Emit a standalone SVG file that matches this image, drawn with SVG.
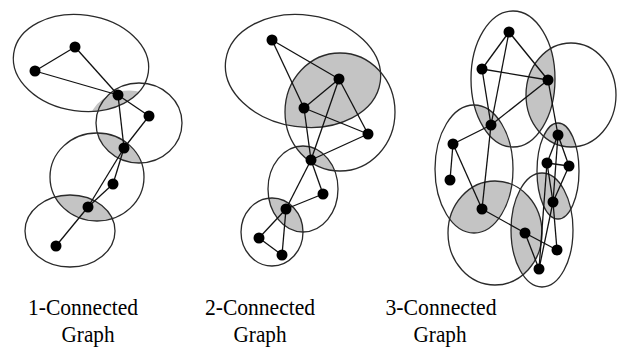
<svg xmlns="http://www.w3.org/2000/svg" width="621" height="349" viewBox="0 0 621 349">
<style>
.ring{fill:none;stroke:#2a2a2a;stroke-width:1.3}
.shade{fill:#c4c4c4;stroke:none}
.edges line{stroke:#111;stroke-width:1.3}
.v{fill:#000}
.lbl{font-family:"Liberation Serif","Times New Roman",serif;font-size:24px;fill:#000;text-anchor:middle}
</style>
<defs>
<clipPath id="c1b"><ellipse cx="139" cy="123" rx="43" ry="40"/></clipPath>
<clipPath id="c1c"><ellipse cx="97" cy="177" rx="47" ry="44"/></clipPath>
<clipPath id="c1d"><ellipse cx="70" cy="231" rx="45" ry="36"/></clipPath>
<clipPath id="c2a"><ellipse cx="303" cy="71" rx="78" ry="56" transform="rotate(8 303 71)"/></clipPath>
<clipPath id="c2c"><ellipse cx="303" cy="189" rx="35" ry="43"/></clipPath>
<clipPath id="c2d"><ellipse cx="272" cy="232" rx="31" ry="34"/></clipPath>
<clipPath id="c3R"><ellipse cx="571" cy="95" rx="45" ry="52"/></clipPath>
<clipPath id="c3L"><ellipse cx="474" cy="169" rx="39" ry="64"/></clipPath>
<clipPath id="c3BL"><ellipse cx="495" cy="233" rx="47" ry="52"/></clipPath>
<clipPath id="c3BR"><ellipse cx="542" cy="230" rx="31" ry="57"/></clipPath>
</defs>

<g id="shading">
<ellipse class="shade" cx="81" cy="63" rx="68" ry="48" transform="rotate(8 81 63)" clip-path="url(#c1b)"/>
<ellipse class="shade" cx="139" cy="123" rx="43" ry="40" clip-path="url(#c1c)"/>
<ellipse class="shade" cx="97" cy="177" rx="47" ry="44" clip-path="url(#c1d)"/>
<ellipse class="shade" cx="340" cy="112" rx="55" ry="59" clip-path="url(#c2a)"/>
<ellipse class="shade" cx="340" cy="112" rx="55" ry="59" clip-path="url(#c2c)"/>
<ellipse class="shade" cx="303" cy="189" rx="35" ry="43" clip-path="url(#c2d)"/>
<ellipse class="shade" cx="513" cy="79" rx="42" ry="68" clip-path="url(#c3R)"/>
<ellipse class="shade" cx="513" cy="79" rx="42" ry="68" clip-path="url(#c3L)"/>
<ellipse class="shade" cx="474" cy="169" rx="39" ry="64" clip-path="url(#c3BL)"/>
<ellipse class="shade" cx="495" cy="233" rx="47" ry="52" clip-path="url(#c3BR)"/>
<ellipse class="shade" cx="558" cy="171" rx="21" ry="48" clip-path="url(#c3R)"/>
<ellipse class="shade" cx="558" cy="171" rx="21" ry="48" clip-path="url(#c3BR)"/>
</g>

<g id="components">
<ellipse id="g1-c1" class="ring" cx="81" cy="63" rx="68" ry="48" transform="rotate(8 81 63)"/>
<ellipse id="g1-c2" class="ring" cx="139" cy="123" rx="43" ry="40"/>
<ellipse id="g1-c3" class="ring" cx="97" cy="177" rx="47" ry="44"/>
<ellipse id="g1-c4" class="ring" cx="70" cy="231" rx="45" ry="36"/>
<ellipse id="g2-c1" class="ring" cx="303" cy="71" rx="78" ry="56" transform="rotate(8 303 71)"/>
<ellipse id="g2-c2" class="ring" cx="340" cy="112" rx="55" ry="59"/>
<ellipse id="g2-c3" class="ring" cx="303" cy="189" rx="35" ry="43"/>
<ellipse id="g2-c4" class="ring" cx="272" cy="232" rx="31" ry="34"/>
<ellipse id="g3-T" class="ring" cx="513" cy="79" rx="42" ry="68"/>
<ellipse id="g3-R" class="ring" cx="571" cy="95" rx="45" ry="52"/>
<ellipse id="g3-L" class="ring" cx="474" cy="169" rx="39" ry="64"/>
<ellipse id="g3-BL" class="ring" cx="495" cy="233" rx="47" ry="52"/>
<ellipse id="g3-BR" class="ring" cx="542" cy="230" rx="31" ry="57"/>
<ellipse id="g3-SR" class="ring" cx="558" cy="171" rx="21" ry="48"/>
</g>

<g id="connectors" class="edges">
<line x1="75" y1="47" x2="35" y2="71"/>
<line x1="75" y1="47" x2="118" y2="95"/>
<line x1="35" y1="71" x2="118" y2="95"/>
<line x1="118" y1="95" x2="149" y2="116"/>
<line x1="118" y1="95" x2="124" y2="148"/>
<line x1="149" y1="116" x2="124" y2="148"/>
<line x1="124" y1="148" x2="113" y2="184"/>
<line x1="124" y1="148" x2="88" y2="207"/>
<line x1="113" y1="184" x2="88" y2="207"/>
<line x1="88" y1="207" x2="56" y2="246"/>

<line x1="272" y1="40" x2="339" y2="79"/>
<line x1="272" y1="40" x2="304" y2="108"/>
<line x1="339" y1="79" x2="304" y2="108"/>
<line x1="339" y1="79" x2="368" y2="134"/>
<line x1="304" y1="108" x2="368" y2="134"/>
<line x1="304" y1="108" x2="311" y2="160"/>
<line x1="339" y1="79" x2="311" y2="160"/>
<line x1="368" y1="134" x2="311" y2="160"/>
<line x1="311" y1="160" x2="286" y2="209"/>
<line x1="311" y1="160" x2="323" y2="194"/>
<line x1="323" y1="194" x2="286" y2="209"/>
<line x1="286" y1="209" x2="259" y2="238"/>
<line x1="286" y1="209" x2="282" y2="255"/>
<line x1="259" y1="238" x2="282" y2="255"/>

<line x1="509" y1="32" x2="482" y2="69"/>
<line x1="509" y1="32" x2="548" y2="80"/>
<line x1="509" y1="32" x2="491" y2="125"/>
<line x1="482" y1="69" x2="548" y2="80"/>
<line x1="482" y1="69" x2="491" y2="125"/>
<line x1="548" y1="80" x2="491" y2="125"/>
<line x1="548" y1="80" x2="558" y2="135"/>
<line x1="491" y1="125" x2="453" y2="144"/>
<line x1="491" y1="125" x2="482" y2="209"/>
<line x1="453" y1="144" x2="450" y2="180"/>
<line x1="453" y1="144" x2="482" y2="209"/>
<line x1="482" y1="209" x2="525" y2="233"/>
<line x1="525" y1="233" x2="557" y2="250"/>
<line x1="525" y1="233" x2="539" y2="269"/>
<line x1="558" y1="135" x2="547" y2="163"/>
<line x1="558" y1="135" x2="569" y2="166"/>
<line x1="547" y1="163" x2="569" y2="166"/>
<line x1="558" y1="135" x2="553" y2="202"/>
<line x1="547" y1="163" x2="553" y2="202"/>
<line x1="569" y1="166" x2="553" y2="202"/>
<line x1="553" y1="202" x2="539" y2="269"/>
<line x1="553" y1="202" x2="557" y2="250"/>
<line x1="547" y1="163" x2="539" y2="269"/>
</g>

<g id="g1-A"><circle class="v" cx="75" cy="47" r="5.5"/></g>
<g id="g1-B"><circle class="v" cx="35" cy="71" r="5.5"/></g>
<g id="g1-C"><circle class="v" cx="118" cy="95" r="5.5"/></g>
<g id="g1-D"><circle class="v" cx="149" cy="116" r="5.5"/></g>
<g id="g1-E"><circle class="v" cx="124" cy="148" r="5.5"/></g>
<g id="g1-F"><circle class="v" cx="113" cy="184" r="5.5"/></g>
<g id="g1-G"><circle class="v" cx="88" cy="207" r="5.5"/></g>
<g id="g1-H"><circle class="v" cx="56" cy="246" r="5.5"/></g>

<g id="g2-A"><circle class="v" cx="272" cy="40" r="5.5"/></g>
<g id="g2-B"><circle class="v" cx="339" cy="79" r="5.5"/></g>
<g id="g2-C"><circle class="v" cx="304" cy="108" r="5.5"/></g>
<g id="g2-D"><circle class="v" cx="368" cy="134" r="5.5"/></g>
<g id="g2-E"><circle class="v" cx="311" cy="160" r="5.5"/></g>
<g id="g2-F"><circle class="v" cx="323" cy="194" r="5.5"/></g>
<g id="g2-G"><circle class="v" cx="286" cy="209" r="5.5"/></g>
<g id="g2-H"><circle class="v" cx="259" cy="238" r="5.5"/></g>
<g id="g2-I"><circle class="v" cx="282" cy="255" r="5.5"/></g>

<g id="g3-A"><circle class="v" cx="509" cy="32" r="5.5"/></g>
<g id="g3-B"><circle class="v" cx="482" cy="69" r="5.5"/></g>
<g id="g3-C"><circle class="v" cx="548" cy="80" r="5.5"/></g>
<g id="g3-D"><circle class="v" cx="491" cy="125" r="5.5"/></g>
<g id="g3-E"><circle class="v" cx="453" cy="144" r="5.5"/></g>
<g id="g3-I"><circle class="v" cx="450" cy="180" r="5.5"/></g>
<g id="g3-K"><circle class="v" cx="482" cy="209" r="5.5"/></g>
<g id="g3-F"><circle class="v" cx="558" cy="135" r="5.5"/></g>
<g id="g3-G"><circle class="v" cx="547" cy="163" r="5.5"/></g>
<g id="g3-H"><circle class="v" cx="569" cy="166" r="5.5"/></g>
<g id="g3-J"><circle class="v" cx="553" cy="202" r="5.5"/></g>
<g id="g3-L"><circle class="v" cx="525" cy="233" r="5.5"/></g>
<g id="g3-M"><circle class="v" cx="557" cy="250" r="5.5"/></g>
<g id="g3-N"><circle class="v" cx="539" cy="269" r="5.5"/></g>

<g id="labels">
<text class="lbl" x="83" y="315" textLength="110" lengthAdjust="spacingAndGlyphs">1-Connected</text>
<text class="lbl" x="88" y="342" textLength="53" lengthAdjust="spacingAndGlyphs">Graph</text>
<text class="lbl" x="260" y="315" textLength="110" lengthAdjust="spacingAndGlyphs">2-Connected</text>
<text class="lbl" x="260" y="342" textLength="53" lengthAdjust="spacingAndGlyphs">Graph</text>
<text class="lbl" x="441" y="315" textLength="111" lengthAdjust="spacingAndGlyphs">3-Connected</text>
<text class="lbl" x="440" y="342" textLength="53" lengthAdjust="spacingAndGlyphs">Graph</text>
</g>
</svg>
